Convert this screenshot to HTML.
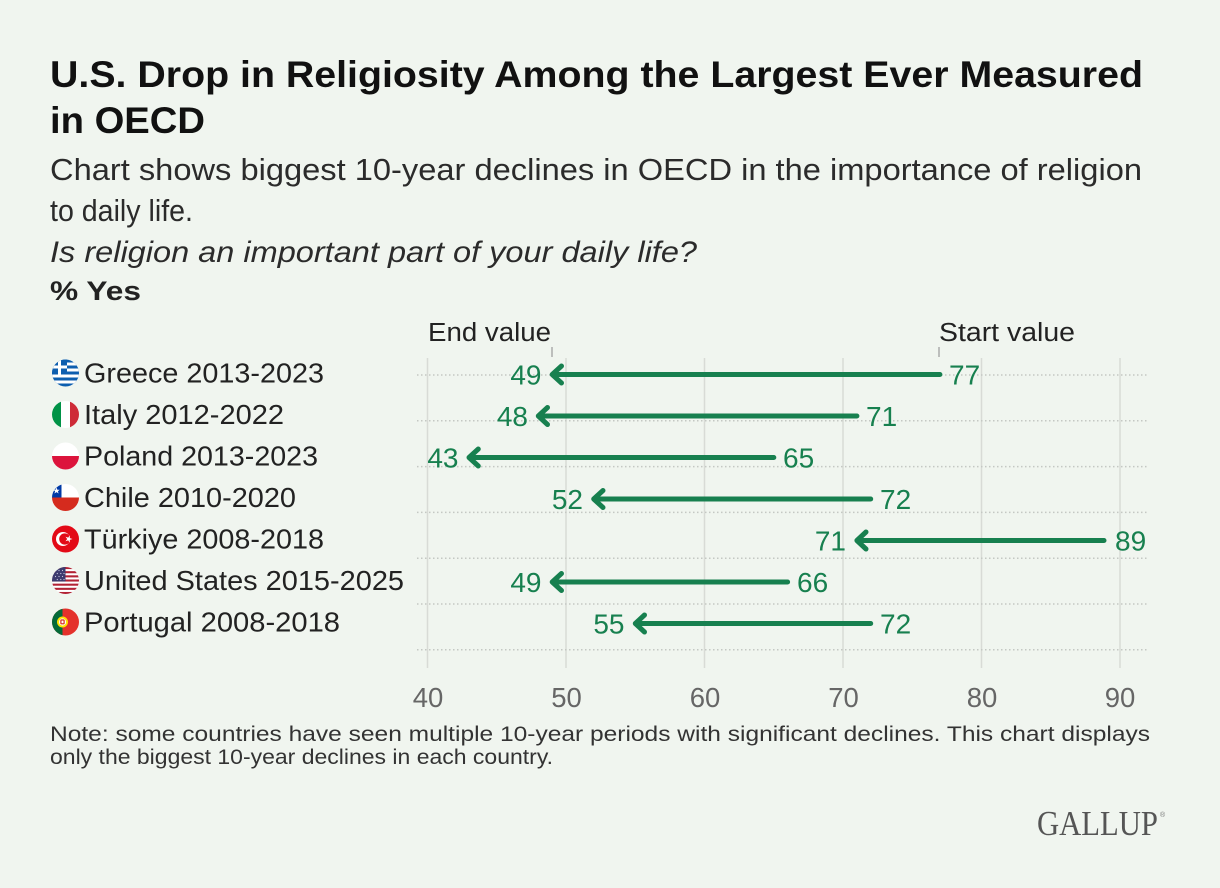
<!DOCTYPE html>
<html>
<head>
<meta charset="utf-8">
<style>
  html,body{margin:0;padding:0;background:#f0f5ef;}
  svg{display:block;}
  text{font-family:"Liberation Sans", Arial, sans-serif;}
</style>
</head>
<body>
<svg width="1220" height="888" viewBox="0 0 1220 888" xmlns="http://www.w3.org/2000/svg">
  <defs>
    <clipPath id="fc"><circle cx="0" cy="0" r="13.5"/></clipPath>
  </defs>
  <rect x="0" y="0" width="1220" height="888" fill="#f0f5ef"/>

  <!-- Title -->
  <text x="50" y="87" font-size="37.5" font-weight="bold" fill="#111" textLength="1093" lengthAdjust="spacingAndGlyphs">U.S. Drop in Religiosity Among the Largest Ever Measured</text>
  <text x="50" y="133" font-size="37.5" font-weight="bold" fill="#111" textLength="155" lengthAdjust="spacingAndGlyphs">in OECD</text>

  <!-- Subtitle -->
  <text x="50" y="180" font-size="31" fill="#2b2b2b" textLength="1092" lengthAdjust="spacingAndGlyphs">Chart shows biggest 10-year declines in OECD in the importance of religion</text>
  <text x="50" y="221" font-size="31" fill="#2b2b2b" textLength="143" lengthAdjust="spacingAndGlyphs">to daily life.</text>
  <text x="50" y="262" font-size="29.5" font-style="italic" fill="#2b2b2b" textLength="647" lengthAdjust="spacingAndGlyphs">Is religion an important part of your daily life?</text>
  <text x="50" y="300" font-size="27" font-weight="bold" fill="#222" textLength="91" lengthAdjust="spacingAndGlyphs">% Yes</text>

  <!-- Vertical gridlines -->
  <g stroke="#d8dbd6" stroke-width="1.5">
    <line x1="427.5" y1="358" x2="427.5" y2="668"/>
    <line x1="566" y1="358" x2="566" y2="668"/>
    <line x1="704.5" y1="358" x2="704.5" y2="668"/>
    <line x1="843" y1="358" x2="843" y2="668"/>
    <line x1="981.5" y1="358" x2="981.5" y2="668"/>
    <line x1="1120" y1="358" x2="1120" y2="668"/>
  </g>
  <!-- Dotted horizontal lines -->
  <g stroke="#c4c8c3" stroke-width="1.5" stroke-dasharray="1.5 2.5">
    <line x1="417" y1="375" x2="1148" y2="375"/>
    <line x1="417" y1="420.8" x2="1148" y2="420.8"/>
    <line x1="417" y1="466.6" x2="1148" y2="466.6"/>
    <line x1="417" y1="512.4" x2="1148" y2="512.4"/>
    <line x1="417" y1="558.2" x2="1148" y2="558.2"/>
    <line x1="417" y1="604" x2="1148" y2="604"/>
    <line x1="417" y1="649.8" x2="1148" y2="649.8"/>
  </g>

  <!-- Legend headers -->
  <text x="428" y="341" font-size="25.5" fill="#222" textLength="123" lengthAdjust="spacingAndGlyphs">End value</text>
  <text x="939" y="341" font-size="25.5" fill="#222" textLength="136" lengthAdjust="spacingAndGlyphs">Start value</text>
  <line x1="552" y1="347" x2="552" y2="357" stroke="#999" stroke-width="1.2"/>
  <line x1="939" y1="347" x2="939" y2="357" stroke="#999" stroke-width="1.2"/>

  <!-- Axis labels -->
  <g font-size="27.5" fill="#666" text-anchor="middle">
    <text x="428" y="707">40</text>
    <text x="566.5" y="707">50</text>
    <text x="705" y="707">60</text>
    <text x="843.5" y="707">70</text>
    <text x="982" y="707">80</text>
    <text x="1120" y="707">90</text>
  </g>

  <!-- Arrows -->
  <g stroke="#17804f" stroke-width="5" fill="none" stroke-linecap="round" stroke-linejoin="round">
    <line x1="939.9" y1="374.5" x2="554" y2="374.5"/>
    <polyline points="561.5,366 552.2,374.5 561.5,383"/>
    <line x1="856.9" y1="416" x2="540.5" y2="416"/>
    <polyline points="547.5,407.5 538.3,416 547.5,424.5"/>
    <line x1="773.8" y1="457.5" x2="471" y2="457.5"/>
    <polyline points="478.3,449 469,457.5 478.3,466"/>
    <line x1="870.7" y1="499" x2="596" y2="499"/>
    <polyline points="603,490.5 593.7,499 603,507.5"/>
    <line x1="1104" y1="540.5" x2="859" y2="540.5"/>
    <polyline points="866,532 856.9,540.5 866,549"/>
    <line x1="787.6" y1="582" x2="554" y2="582"/>
    <polyline points="561.5,573.5 552.2,582 561.5,590.5"/>
    <line x1="870.7" y1="623.5" x2="637.5" y2="623.5"/>
    <polyline points="644.5,615 635.3,623.5 644.5,632"/>
  </g>

  <!-- Value labels -->
  <g font-size="28" fill="#17804f">
    <g text-anchor="end">
      <text x="541.5" y="384.5">49</text>
      <text x="528" y="426">48</text>
      <text x="458.5" y="467.5">43</text>
      <text x="583" y="509">52</text>
      <text x="846" y="550.5">71</text>
      <text x="541.5" y="592">49</text>
      <text x="624.5" y="633.5">55</text>
    </g>
    <text x="949" y="384.5">77</text>
    <text x="866" y="426">71</text>
    <text x="783" y="467.5">65</text>
    <text x="880" y="509">72</text>
    <text x="1115" y="550.5">89</text>
    <text x="797" y="592">66</text>
    <text x="880" y="633.5">72</text>
  </g>

  <!-- Country labels -->
  <g font-size="27.5" fill="#222">
    <text x="84" y="382.5" textLength="240" lengthAdjust="spacingAndGlyphs">Greece 2013-2023</text>
    <text x="84" y="424" textLength="200" lengthAdjust="spacingAndGlyphs">Italy 2012-2022</text>
    <text x="84" y="465.5" textLength="234" lengthAdjust="spacingAndGlyphs">Poland 2013-2023</text>
    <text x="84" y="507" textLength="212" lengthAdjust="spacingAndGlyphs">Chile 2010-2020</text>
    <text x="84" y="548.5" textLength="240" lengthAdjust="spacingAndGlyphs">Türkiye 2008-2018</text>
    <text x="84" y="590" textLength="320" lengthAdjust="spacingAndGlyphs">United States 2015-2025</text>
    <text x="84" y="631.5" textLength="256" lengthAdjust="spacingAndGlyphs">Portugal 2008-2018</text>
  </g>

  <!-- Flags -->
  <!-- Greece -->
  <g transform="translate(65.5,373)" clip-path="url(#fc)">
    <rect x="-14" y="-14" width="28" height="28" fill="#0d5eaf"/>
    <rect x="-14" y="-10.5" width="28" height="3" fill="#fff"/>
    <rect x="-14" y="-4.5" width="28" height="3" fill="#fff"/>
    <rect x="-14" y="1.5" width="28" height="3" fill="#fff"/>
    <rect x="-14" y="7.5" width="28" height="3" fill="#fff"/>
    <rect x="-14" y="-14" width="15.5" height="15.5" fill="#0d5eaf"/>
    <rect x="-7.5" y="-14" width="3" height="15.5" fill="#fff"/>
    <rect x="-14" y="-7.5" width="15.5" height="3" fill="#fff"/>
  </g>
  <!-- Italy -->
  <g transform="translate(65.5,414.5)" clip-path="url(#fc)">
    <rect x="-14" y="-14" width="9.5" height="28" fill="#009246"/>
    <rect x="-4.5" y="-14" width="9" height="28" fill="#fff"/>
    <rect x="4.5" y="-14" width="9.5" height="28" fill="#ce2b37"/>
  </g>
  <!-- Poland -->
  <g transform="translate(65.5,456)" clip-path="url(#fc)">
    <rect x="-14" y="-14" width="28" height="14" fill="#fff"/>
    <rect x="-14" y="0" width="28" height="14" fill="#dc143c"/>
  </g>
  <!-- Chile -->
  <g transform="translate(65.5,497.5)" clip-path="url(#fc)">
    <rect x="-14" y="-14" width="28" height="14" fill="#fff"/>
    <rect x="-14" y="0" width="28" height="14" fill="#d52b1e"/>
    <rect x="-14" y="-14" width="10" height="14" fill="#0039a6"/>
    <polygon points="-9,-10 -8.1,-7.7 -5.8,-7.7 -7.6,-6.3 -6.9,-4 -9,-5.4 -11.1,-4 -10.4,-6.3 -12.2,-7.7 -9.9,-7.7" fill="#fff"/>
  </g>
  <!-- Turkiye -->
  <g transform="translate(65.5,539)" clip-path="url(#fc)">
    <rect x="-14" y="-14" width="28" height="28" fill="#e30a17"/>
    <circle cx="-2.5" cy="0" r="7" fill="#fff"/>
    <circle cx="-0.7" cy="0" r="5.6" fill="#e30a17"/>
    <polygon points="6,0 3.3,0.9 3.3,3.7 1.7,1.4 -1,2.3 0.7,0 -1,-2.3 1.7,-1.4 3.3,-3.7 3.3,-0.9" fill="#fff" transform="translate(1,0)"/>
  </g>
  <!-- United States -->
  <g transform="translate(65.5,580.5)" clip-path="url(#fc)">
    <rect x="-14" y="-14" width="28" height="28" fill="#fff"/>
    <g fill="#b22234">
      <rect x="-14" y="-13.5" width="28" height="2.08"/>
      <rect x="-14" y="-9.34" width="28" height="2.08"/>
      <rect x="-14" y="-5.18" width="28" height="2.08"/>
      <rect x="-14" y="-1.02" width="28" height="2.08"/>
      <rect x="-14" y="3.14" width="28" height="2.08"/>
      <rect x="-14" y="7.3" width="28" height="2.08"/>
      <rect x="-14" y="11.46" width="28" height="2.08"/>
    </g>
    <rect x="-14" y="-14" width="14" height="15" fill="#3c3b6e"/>
    <g fill="#c8cbe0">
      <circle cx="-10" cy="-10" r="0.6"/><circle cx="-6.5" cy="-10" r="0.6"/><circle cx="-3" cy="-10" r="0.6"/>
      <circle cx="-8.2" cy="-7" r="0.6"/><circle cx="-4.7" cy="-7" r="0.6"/><circle cx="-1.5" cy="-7" r="0.6"/>
      <circle cx="-10" cy="-4" r="0.6"/><circle cx="-6.5" cy="-4" r="0.6"/><circle cx="-3" cy="-4" r="0.6"/>
      <circle cx="-8.2" cy="-1" r="0.6"/><circle cx="-4.7" cy="-1" r="0.6"/><circle cx="-1.5" cy="-1" r="0.6"/>
    </g>
  </g>
  <!-- Portugal -->
  <g transform="translate(65.5,622)" clip-path="url(#fc)">
    <rect x="-14" y="-14" width="28" height="28" fill="#e4312b"/>
    <rect x="-14" y="-14" width="11" height="28" fill="#046a38"/>
    <circle cx="-3" cy="0" r="5.5" fill="#ffe000"/>
    <circle cx="-3" cy="0" r="3.6" fill="#fff"/>
    <rect x="-5.2" y="-2.6" width="4.4" height="5" rx="1" fill="#da291c"/>
    <rect x="-4" y="-1.4" width="2" height="2.6" fill="#fff"/>
  </g>

  <!-- Note -->
  <text x="50" y="741" font-size="21.5" fill="#333" textLength="1100" lengthAdjust="spacingAndGlyphs">Note: some countries have seen multiple 10-year periods with significant declines. This chart displays</text>
  <text x="50" y="764" font-size="21.5" fill="#333" textLength="503" lengthAdjust="spacingAndGlyphs">only the biggest 10-year declines in each country.</text>

  <!-- Gallup logo -->
  <text x="1037" y="835" font-size="35" fill="#555" textLength="121" lengthAdjust="spacingAndGlyphs" style="font-family:'Liberation Serif','Times New Roman',serif">GALLUP</text>
  <text x="1160" y="817" font-size="7" fill="#777">®</text>
</svg>
</body>
</html>
